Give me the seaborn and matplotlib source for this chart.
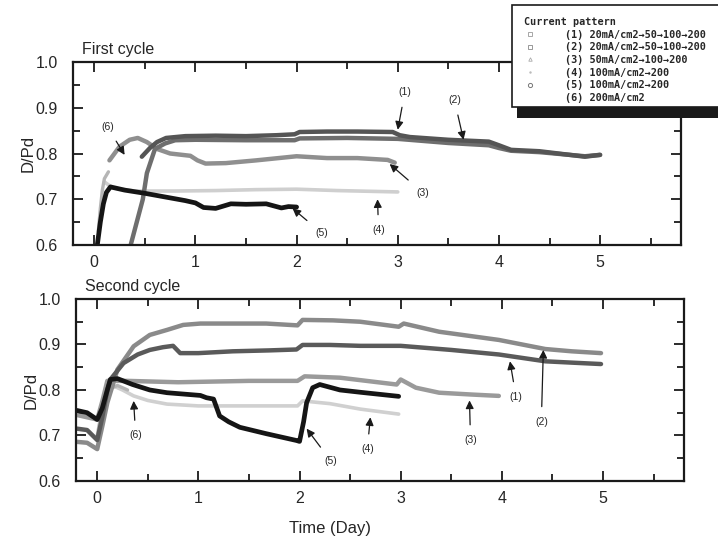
import numpy as np
import pandas as pd
import matplotlib
matplotlib.use('Agg')
import matplotlib.pyplot as plt
import seaborn as sns
from matplotlib.lines import Line2D
from matplotlib.patches import Rectangle
from matplotlib.font_manager import FontProperties
from matplotlib.ticker import MultipleLocator, FormatStrFormatter

# ---- data (day, D/Pd) ----
# first cycle
c1_p1_day = [0.47, 0.55, 0.62, 0.71, 0.9, 1.2, 1.5, 1.8, 1.98, 2.03, 2.3, 2.6, 2.95, 3.02, 3.12, 3.5, 3.9,
             4.0, 4.12, 4.4, 4.7, 4.85, 5.0]
c1_p1_val = [0.793, 0.812, 0.825, 0.834, 0.838, 0.839, 0.838, 0.840, 0.842, 0.847, 0.848, 0.848, 0.847,
             0.840, 0.836, 0.830, 0.826, 0.818, 0.808, 0.805, 0.797, 0.793, 0.797]
c1_p2_day = [0.36, 0.42, 0.48, 0.52, 0.6, 0.7, 0.8, 1.0, 1.5, 1.98, 2.03, 2.5, 3.0, 3.5, 3.9, 4.0, 4.12,
             4.4, 4.7, 4.85, 5.0]
c1_p2_val = [0.60, 0.65, 0.70, 0.757, 0.81, 0.822, 0.829, 0.83, 0.829, 0.829, 0.833, 0.834, 0.832, 0.823,
             0.818, 0.812, 0.806, 0.803, 0.797, 0.794, 0.797]
c1_p3_day = [0.15, 0.25, 0.35, 0.43, 0.52, 0.62, 0.75, 0.95, 1.02, 1.1, 1.3, 1.6, 2.0, 2.3, 2.6, 2.9, 2.97]
c1_p3_val = [0.785, 0.815, 0.83, 0.834, 0.825, 0.81, 0.80, 0.795, 0.785, 0.778, 0.779, 0.785, 0.794, 0.79,
             0.79, 0.786, 0.780]
c1_p4_day = [0.10, 0.18, 0.4, 0.8, 1.2, 1.6, 2.0, 2.4, 2.8, 3.0]
c1_p4_val = [0.738, 0.725, 0.718, 0.718, 0.719, 0.721, 0.722, 0.719, 0.717, 0.716]
c1_p5_day = [0.03, 0.06, 0.09, 0.12, 0.16, 0.3, 0.5, 0.7, 0.9, 1.0, 1.08, 1.2, 1.35, 1.5, 1.7, 1.85,
             1.92, 2.0]
c1_p5_val = [0.60, 0.65, 0.69, 0.715, 0.727, 0.72, 0.713, 0.705, 0.697, 0.692, 0.682, 0.680, 0.690, 0.689,
             0.690, 0.681, 0.684, 0.683]
c1_p6_day = [0.04, 0.06, 0.08, 0.10, 0.14]
c1_p6_val = [0.63, 0.68, 0.72, 0.745, 0.76]

# second cycle
c2_p1_day = [-0.2, -0.1, 0.0, 0.05, 0.1, 0.13, 0.26, 0.4, 0.52, 0.65, 0.75, 0.82, 1.0, 1.34, 1.7, 1.97,
             2.03, 2.3, 2.6, 3.0, 3.5, 3.97, 4.43, 4.7, 4.98]
c2_p1_val = [0.715, 0.712, 0.69, 0.74, 0.80, 0.823, 0.859, 0.878, 0.888, 0.894, 0.897, 0.881, 0.881, 0.885,
             0.887, 0.889, 0.899, 0.899, 0.897, 0.897, 0.888, 0.878, 0.863, 0.86, 0.857]
c2_p2_day = [-0.2, -0.1, 0.0, 0.05, 0.1, 0.2, 0.36, 0.52, 0.69, 0.85, 1.02, 1.4, 1.67, 1.98, 2.03, 2.33,
             2.6, 2.98, 3.03, 3.38, 3.97, 4.43, 4.69, 4.98]
c2_p2_val = [0.686, 0.684, 0.67, 0.72, 0.772, 0.845, 0.896, 0.921, 0.932, 0.943, 0.946, 0.946, 0.946,
             0.942, 0.954, 0.953, 0.95, 0.939, 0.946, 0.928, 0.91, 0.89, 0.885, 0.881]
c2_p3_day = [-0.2, -0.1, 0.0, 0.05, 0.1, 0.3, 0.8, 1.5, 1.98, 2.05, 2.4, 2.96, 3.0, 3.15, 3.38, 3.7, 3.97]
c2_p3_val = [0.745, 0.74, 0.735, 0.775, 0.82, 0.82, 0.817, 0.82, 0.82, 0.83, 0.827, 0.812, 0.823, 0.805,
             0.794, 0.79, 0.787]
c2_p4_day = [0.02, 0.08, 0.15, 0.25, 0.36, 0.5, 0.69, 1.0, 1.5, 1.98, 2.03, 2.3, 2.6, 2.98]
c2_p4_val = [0.72, 0.79, 0.81, 0.80, 0.787, 0.777, 0.769, 0.765, 0.765, 0.765, 0.776, 0.77, 0.758, 0.747]
c2_p5_day = [-0.2, -0.1, 0.0, 0.05, 0.1, 0.13, 0.2, 0.35, 0.52, 0.69, 1.02, 1.08, 1.15, 1.21, 1.3, 1.41,
             1.67, 1.97, 2.0, 2.04, 2.07, 2.13, 2.2, 2.4, 2.6, 2.98]
c2_p5_val = [0.755, 0.75, 0.735, 0.76, 0.80, 0.823, 0.825, 0.812, 0.80, 0.794, 0.788, 0.783, 0.78, 0.743,
             0.73, 0.718, 0.704, 0.689, 0.687, 0.73, 0.772, 0.805, 0.812, 0.80, 0.795, 0.786]
c2_p6_day = [0.0, 0.05, 0.1, 0.2, 0.3]
c2_p6_val = [0.70, 0.76, 0.80, 0.81, 0.80]

patterns = ['(1)', '(2)', '(3)', '(4)', '(5)', '(6)']
legend_text = ['20mA/cm2\u219250\u2192100\u2192200', '20mA/cm2\u219250\u2192100\u2192200',
               '50mA/cm2\u2192100\u2192200', '100mA/cm2\u2192200', '100mA/cm2\u2192200', '200mA/cm2']

# arrow labels: (label, text position, arrow tip)
c1_notes = [('(1)', (3.07, 0.934), (3.0, 0.852)), ('(2)', (3.56, 0.917), (3.65, 0.83)),
            ('(3)', (3.25, 0.714), (2.92, 0.777)), ('(4)', (2.81, 0.633), (2.8, 0.70)),
            ('(5)', (2.25, 0.626), (1.96, 0.68)), ('(6)', (0.13, 0.858), (0.3, 0.797))]
c2_notes = [('(1)', (4.14, 0.785), (4.08, 0.863)), ('(2)', (4.39, 0.73), (4.41, 0.888)),
            ('(3)', (3.69, 0.69), (3.68, 0.777)), ('(4)', (2.67, 0.67), (2.7, 0.74)),
            ('(5)', (2.31, 0.644), (2.07, 0.715)), ('(6)', (0.38, 0.70), (0.36, 0.776))]


def to_frame(days, vals):
    rows = []
    for p, d, v in zip(patterns, days, vals):
        rows.append(pd.DataFrame({'day': d, 'ratio': v, 'pattern': p}))
    return pd.concat(rows, ignore_index=True)


cycle1 = to_frame([c1_p1_day, c1_p2_day, c1_p3_day, c1_p4_day, c1_p5_day, c1_p6_day],
                  [c1_p1_val, c1_p2_val, c1_p3_val, c1_p4_val, c1_p5_val, c1_p6_val])
cycle2 = to_frame([c2_p1_day, c2_p2_day, c2_p3_day, c2_p4_day, c2_p5_day, c2_p6_day],
                  [c2_p1_val, c2_p2_val, c2_p3_val, c2_p4_val, c2_p5_val, c2_p6_val])

sns.set_theme(style='ticks')
plt.rcParams['font.family'] = ['Liberation Sans', 'DejaVu Sans']

styles1 = {'(1)': ('#555555', 3.2), '(2)': ('#6e6e6e', 3.2), '(3)': ('#8f8f8f', 3.2),
           '(4)': ('#cfcfcf', 2.6), '(5)': ('#151515', 3.4), '(6)': ('#b5b5b5', 2.4)}
styles2 = {'(1)': ('#5a5a5a', 3.2), '(2)': ('#8a8a8a', 3.2), '(3)': ('#9a9a9a', 3.2),
           '(4)': ('#d0d0d0', 2.6), '(5)': ('#151515', 3.4), '(6)': ('#b5b5b5', 2.4)}

fig = plt.figure(figsize=(7.18, 5.43), dpi=100)
ax1 = fig.add_axes([0.1017, 0.5488, 0.8468, 0.337])
ax2 = fig.add_axes([0.1058, 0.1142, 0.8468, 0.3352])


def draw_panel(ax, df, styles, notes, title):
    for p in ['(4)', '(6)', '(3)', '(2)', '(1)', '(5)']:
        sub = df[df['pattern'] == p]
        col, lw = styles[p]
        sns.lineplot(data=sub, x='day', y='ratio', ax=ax, color=col, linewidth=lw,
                     sort=False, estimator=None, legend=False)
    ax.set_xlim(-0.21, 5.8)
    ax.set_ylim(0.6, 1.0)
    ax.xaxis.set_major_locator(MultipleLocator(1))
    ax.xaxis.set_minor_locator(MultipleLocator(0.5))
    ax.yaxis.set_major_locator(MultipleLocator(0.1))
    ax.yaxis.set_minor_locator(MultipleLocator(0.05))
    ax.yaxis.set_major_formatter(FormatStrFormatter('%.1f'))
    ax.tick_params(which='both', direction='in', top=True, right=True, width=1.3, color='k')
    ax.tick_params(which='major', length=7)
    ax.tick_params(which='minor', length=5)
    ax.tick_params(axis='x', labelsize=11.5, pad=7)
    ax.tick_params(axis='y', labelsize=11.5, pad=11)
    for s in ax.spines.values():
        s.set_linewidth(1.6)
        s.set_color('k')
    ax.set_xlabel('')
    ax.set_ylabel('D/Pd', fontsize=12, labelpad=0)
    ax.text(0.015, 1.025, title, transform=ax.transAxes, fontsize=11.5, ha='left', va='bottom')
    for lab, xytext, xy in notes:
        ax.annotate(lab, xy=xy, xytext=xytext, fontsize=7.5, ha='center', va='center',
                    arrowprops=dict(arrowstyle='-|>', color='k', lw=0.9, mutation_scale=12,
                                    shrinkA=5, shrinkB=0))


draw_panel(ax1, cycle1, styles1, c1_notes, 'First cycle')
draw_panel(ax2, cycle2, styles2, c2_notes, 'Second cycle')

fig.text(330 / 718, 1 - 528 / 543, 'Time (Day)', fontsize=12, ha='center', va='center')

# legend: white box with a hard black drop shadow, running off the right edge
box_x0, box_top, box_bottom = 512 / 718, 1 - 5 / 543, 1 - 107 / 543
fig.add_artist(Rectangle((box_x0 + 5 / 718, box_bottom - 11 / 543), 0.4, box_top - box_bottom,
                         transform=fig.transFigure, facecolor='k', edgecolor='none', zorder=8))
fig.add_artist(Rectangle((box_x0, box_bottom), 0.4, box_top - box_bottom, transform=fig.transFigure,
                         facecolor='white', edgecolor='k', linewidth=1.2, zorder=9))

mono = FontProperties(family='DejaVu Sans Mono', weight='bold', size=7.3)
handles = [
    Line2D([], [], ls='none', marker='s', ms=2.5, mfc='none', mec='#999999', mew=0.6),
    Line2D([], [], ls='none', marker='s', ms=2.5, mfc='none', mec='#888888', mew=0.6),
    Line2D([], [], ls='none', marker='^', ms=2.5, mfc='none', mec='#aaaaaa', mew=0.6),
    Line2D([], [], ls='none', marker='.', ms=1.5, color='#bbbbbb'),
    Line2D([], [], ls='none', marker='o', ms=3, mfc='none', mec='#777777', mew=0.7),
    Line2D([], [], ls='none'),
]
labels = [f'{p} {t}' for p, t in zip(patterns, legend_text)]
leg = fig.legend(handles, labels, loc='upper left', bbox_to_anchor=(524 / 718, 1 - 17 / 543),
                 title='Current pattern', title_fontproperties=mono, prop=mono, alignment='left',
                 frameon=False, borderpad=0, borderaxespad=0,
                 labelspacing=0.26, handlelength=1.2, handletextpad=2.8)
leg.set_zorder(10)

fig.savefig('out.png', dpi=100)
